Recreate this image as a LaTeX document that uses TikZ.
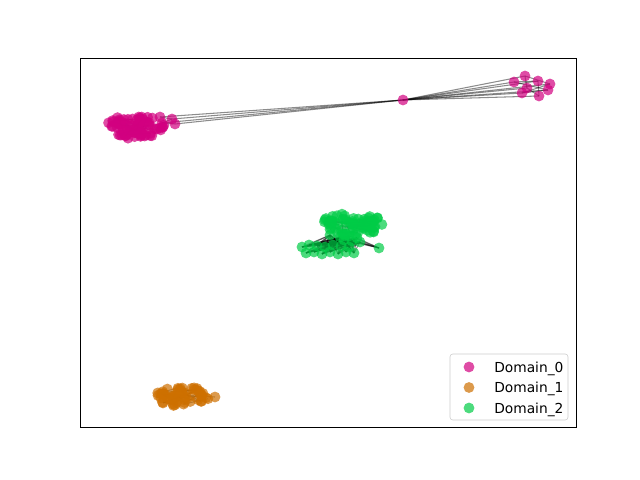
\documentclass[tikz,border=0pt]{standalone}
\usepackage{fontspec}
\setmainfont{DejaVu Sans}
\usetikzlibrary{backgrounds}
\definecolor{domzero}{RGB}{210,0,128}
\definecolor{domone}{RGB}{206,112,0}
\definecolor{domtwo}{RGB}{0,204,70}

\begin{document}
\begin{tikzpicture}[x=0.025cm,y=-0.025cm]
    \tikzstyle{dot}=[circle,inner sep=0pt,minimum size=0.27cm,fill opacity=0.7]
    \tikzstyle{dzero}=[dot,fill=domzero]
    \tikzstyle{done}=[dot,fill=domone]
    \tikzstyle{dtwo}=[dot,fill=domtwo]
    \tikzstyle{edge}=[black,opacity=0.45,line width=0.75pt]
    \tikzstyle{legtext}=[anchor=base west,inner sep=0pt,font=\fontsize{9.8}{12}\selectfont]
    \useasboundingbox (0,0) rectangle (640,480);
    \draw[line width=0.6pt] (80,58) rectangle (576,427);
    % Domain_0
    \pgfmathsetseed{11}
    \foreach \i in {1,...,80}{
      \pgfmathsetmacro{\ang}{360*rnd}
      \pgfmathsetmacro{\rad}{sqrt(rnd)}
      \node[dzero] (zero\i) at ({134+31*\rad*cos(\ang)},{127+11.5*\rad*sin(\ang)}) {};
    }
    \node[dzero] (zeroa) at (172,119) {};
    \node[dzero] (zerob) at (175,124) {};
    \node[dzero] (zeroc) at (160,117) {};
    \node[dzero] (zerod) at (162,123) {};
    \node[dzero] (hub) at (403,100) {};
    \foreach \n/\x/\y in {1/514/82,2/525/76,3/538/81,4/550/84,5/527/88,6/522/93,7/539/96,8/548/90}
      \node[dzero] (top\n) at (\x,\y) {};
    % Domain_1
    \foreach \i in {1,...,55}{
      \pgfmathsetmacro{\ang}{360*rnd}
      \pgfmathsetmacro{\rad}{sqrt(rnd)}
      \node[done] (one\i) at ({183+29*\rad*cos(\ang)},{397+10*\rad*sin(\ang)}) {};
    }
    \node[done] (oneout) at (215,397) {};
    % Domain_2
    \foreach \i in {1,...,65}{
      \pgfmathsetmacro{\ang}{360*rnd}
      \pgfmathsetmacro{\rad}{sqrt(rnd)}
      \node[dtwo] (two\i) at ({351+31*\rad*cos(\ang)},{224+12*\rad*sin(\ang)}) {};
    }
    \foreach \n/\x/\y in {1/330/235,2/340/237,3/349/236,4/357/238,5/344/240,6/352/241,7/360/242}
      \node[dtwo] (bridge\n) at (\x,\y) {};
    \foreach \n/\x/\y in {1/302/247,2/309/245,3/317/246,4/325/247,5/333/245,6/341/246,7/349/247,
        8/306/253,9/314/252,10/322/254,11/330/252,12/338/254,13/346/252,14/354/253}
      \node[dtwo] (low\n) at (\x,\y) {};
    \node[dtwo] (twoout) at (379,248) {};
    % edges
    \begin{pgfonlayer}{background}
      \fill[white] (0,0) rectangle (640,480);
      \foreach \n in {1,...,8}
        \draw[edge] (hub.center) -- (top\n.center);
      \foreach \a/\b in {1/3,2/5,4/6,3/7,1/8,5/7,2/4,6/8}
        \draw[edge] (top\a.center) -- (top\b.center);
      \foreach \n in {a,b,c,d}
        \draw[edge] (hub.center) -- (zero\n.center);
      \draw[edge] (zeroa.center) -- (zeroc.center);
      \draw[edge] (zerob.center) -- (zerod.center);
      \draw[edge] (zeroa.center) -- (zerod.center);
      \foreach \i [evaluate=\i as \j using int(\i+12)] in {1,...,20}
        \draw[edge] (zero\i.center) -- (zero\j.center);
      \foreach \i [evaluate=\i as \j using int(\i+10)] in {1,...,25}
        \draw[edge] (one\i.center) -- (one\j.center);
      \draw[edge] (oneout.center) -- (one3.center);
      \foreach \l in {1,...,14}
        \foreach \b in {1,...,7}
          \draw[edge] (low\l.center) -- (bridge\b.center);
      \foreach \b in {2,...,7}
        \draw[edge] (twoout.center) -- (bridge\b.center);
      \foreach \i [evaluate=\i as \j using int(\i+15)] in {1,...,15}
        \draw[edge] (two\i.center) -- (two\j.center);
    \end{pgfonlayer}
    % legend
    \draw[black!20,fill=white,fill opacity=0.8,rounded corners=2pt] (450,354) rectangle (568,420);
    \node[dzero] (legzero) at (469,367) {};
    \node[done] (legone) at (469,387.5) {};
    \node[dtwo] (legtwo) at (469,408) {};
    \node[legtext] (labzero) at (494,372) {Domain\_0};
    \node[legtext] (labone) at (494,392.5) {Domain\_1};
    \node[legtext] (labtwo) at (494,413) {Domain\_2};
\end{tikzpicture}
\end{document}
